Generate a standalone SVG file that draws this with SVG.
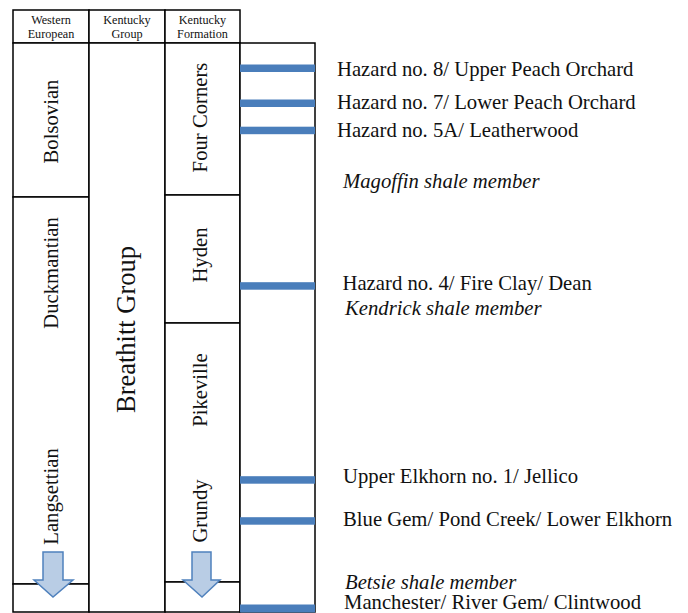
<svg xmlns="http://www.w3.org/2000/svg" width="688" height="613" viewBox="0 0 688 613">
<style>
text{font-family:'Liberation Serif','Times New Roman',serif;fill:#111}
.box{fill:#fff;stroke:#000;stroke-width:1.5}
.hd{font-size:12.2px;text-anchor:middle}
.vl{font-size:20.7px;text-anchor:middle}
.big{font-size:26.5px;text-anchor:middle}
.lb{font-size:20.7px}
.it{font-style:italic}
.bar{fill:#4a7ebb}
.arr{fill:#b9cde5;stroke:#4f81bd;stroke-width:1.5}
</style>
<rect width="688" height="613" fill="#fff"/>
<g id="headers">
<rect class="box" x="13" y="10" width="76" height="33"/>
<rect class="box" x="89" y="10" width="76" height="33"/>
<rect class="box" x="165" y="10" width="75" height="33"/>
<text class="hd" x="51" y="24">Western</text><text class="hd" x="51" y="37.6">European</text>
<text class="hd" x="127" y="24">Kentucky</text><text class="hd" x="127" y="37.6">Group</text>
<text class="hd" x="202.5" y="24">Kentucky</text><text class="hd" x="202.5" y="37.6">Formation</text>
</g>
<g id="col-western">
<rect class="box" x="13" y="43" width="76" height="154"/>
<rect class="box" x="13" y="197" width="76" height="387"/>
<rect class="box" x="13" y="584" width="76" height="28"/>
<text class="vl" transform="translate(58,121.5) rotate(-90)">Bolsovian</text>
<text class="vl" transform="translate(58,273) rotate(-90)">Duckmantian</text>
<text class="vl" transform="translate(58,496.5) rotate(-90)">Langsettian</text>
</g>
<g id="col-group">
<rect class="box" x="89" y="43" width="76" height="569"/>
<text class="big" transform="translate(135,329.5) rotate(-90)">Breathitt  Group</text>
</g>
<g id="col-formation">
<rect class="box" x="165" y="43" width="75" height="152"/>
<rect class="box" x="165" y="195" width="75" height="128"/>
<rect class="box" x="165" y="323" width="75" height="259"/>
<rect class="box" x="165" y="582" width="75" height="30"/>
<text class="vl" transform="translate(207,117.5) rotate(-90)">Four Corners</text>
<text class="vl" transform="translate(207,255) rotate(-90)">Hyden</text>
<text class="vl" transform="translate(207,390) rotate(-90)">Pikeville</text>
<text class="vl" transform="translate(207,511) rotate(-90)">Grundy</text>
</g>
<g id="col-coal">
<rect class="box" x="240" y="43" width="75" height="569"/>
<rect class="bar" x="240" y="64.5" width="75" height="7.5"/>
<rect class="bar" x="240" y="99.5" width="75" height="7.5"/>
<rect class="bar" x="240" y="126.7" width="75" height="7.5"/>
<rect class="bar" x="240" y="282.2" width="75" height="7.5"/>
<rect class="bar" x="240" y="476.2" width="75" height="7.5"/>
<rect class="bar" x="240" y="517.2" width="75" height="7.5"/>
<rect class="bar" x="240" y="604.5" width="75" height="8"/>
</g>
<g id="arrows">
<path class="arr" d="M43,552 H63 V580 H73 L53,597 L34,580 H43 Z"/>
<path class="arr" d="M192,552 H211 V580 H220 L202,597 L183,580 H192 Z"/>
</g>
<g id="labels">
<text class="lb" x="337" y="75.5">Hazard no. 8/ Upper Peach Orchard</text>
<text class="lb" x="337" y="108.5">Hazard no. 7/ Lower Peach Orchard</text>
<text class="lb" x="337" y="137">Hazard no. 5A/ Leatherwood</text>
<text class="lb it" x="343" y="187.5">Magoffin shale member</text>
<text class="lb" x="342.5" y="290">Hazard no. 4/ Fire Clay/ Dean</text>
<text class="lb it" x="345" y="315">Kendrick shale member</text>
<text class="lb" x="343" y="483">Upper Elkhorn no. 1/ Jellico</text>
<text class="lb" x="343" y="526">Blue Gem/ Pond Creek/ Lower Elkhorn</text>
<text class="lb it" x="345" y="589">Betsie shale member</text>
<text class="lb" x="344" y="608.5">Manchester/ River Gem/ Clintwood</text>
</g>
</svg>
